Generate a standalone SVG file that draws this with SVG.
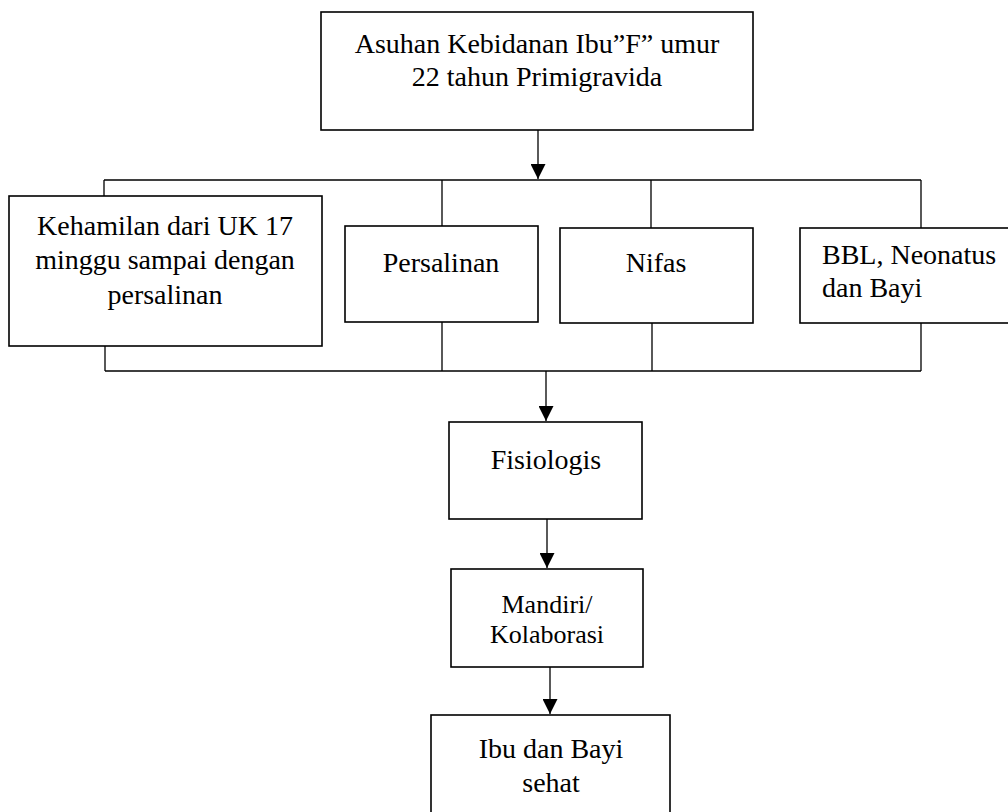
<svg xmlns="http://www.w3.org/2000/svg" width="1008" height="812" viewBox="0 0 1008 812">
<style>
.box{fill:#fff;stroke:#000;stroke-width:1.6}
.ln{fill:none;stroke:#000;stroke-width:1.3}
text{font-size:28px;fill:#000}
.c{text-anchor:middle}
.s{font-size:26px}
</style>
<defs>
<marker id="ah" viewBox="0 0 10 10" refX="10" refY="5" markerWidth="16" markerHeight="15" markerUnits="userSpaceOnUse" orient="auto">
<path d="M0,0 L10,5 L0,10 z" fill="#000"/>
</marker>
</defs>
<rect width="1008" height="812" fill="#fff"/>
<g id="connectors">
<path class="ln" d="M538,130 V179" marker-end="url(#ah)"/>
<path class="ln" d="M104,180 H921 M104,180 V196 M442,180 V226 M651,180 V228 M921,180 V228"/>
<path class="ln" d="M105,346 V371 M442,322 V371 M652,323 V371 M921,323 V371 M105,371 H921"/>
<path class="ln" d="M546,371 V421" marker-end="url(#ah)"/>
<path class="ln" d="M547,519 V568" marker-end="url(#ah)"/>
<path class="ln" d="M550,667 V714" marker-end="url(#ah)"/>
</g>
<g font-family="'Liberation Serif', serif">
<g id="node-asuhan">
<rect class="box" x="321" y="12" width="432" height="118"/>
<text class="c" x="537" y="53">Asuhan Kebidanan Ibu”F” umur</text>
<text class="c" x="537" y="86">22 tahun Primigravida</text>
</g>
<g id="node-kehamilan">
<rect class="box" x="9" y="196" width="313" height="150"/>
<text class="c" x="165" y="235">Kehamilan dari UK 17</text>
<text class="c" x="165" y="269">minggu sampai dengan</text>
<text class="c" x="165" y="304">persalinan</text>
</g>
<g id="node-persalinan">
<rect class="box" x="345" y="226" width="193" height="96"/>
<text class="c" x="441" y="272">Persalinan</text>
</g>
<g id="node-nifas">
<rect class="box" x="560" y="228" width="193" height="95"/>
<text class="c" x="656" y="272">Nifas</text>
</g>
<g id="node-bbl">
<rect class="box" x="800" y="228" width="214" height="95"/>
<text x="822" y="264">BBL, Neonatus</text>
<text x="822" y="297">dan Bayi</text>
</g>
<g id="node-fisiologis">
<rect class="box" x="449" y="422" width="193" height="97"/>
<text class="c" x="546" y="469">Fisiologis</text>
</g>
<g id="node-mandiri">
<rect class="box" x="451" y="569" width="192" height="98"/>
<text class="c s" x="547" y="613">Mandiri/</text>
<text class="c s" x="547" y="643">Kolaborasi</text>
</g>
<g id="node-ibu">
<rect class="box" x="431" y="715" width="239" height="110"/>
<text class="c" x="551" y="758">Ibu dan Bayi</text>
<text class="c" x="551" y="792">sehat</text>
</g>
</g>
</svg>
